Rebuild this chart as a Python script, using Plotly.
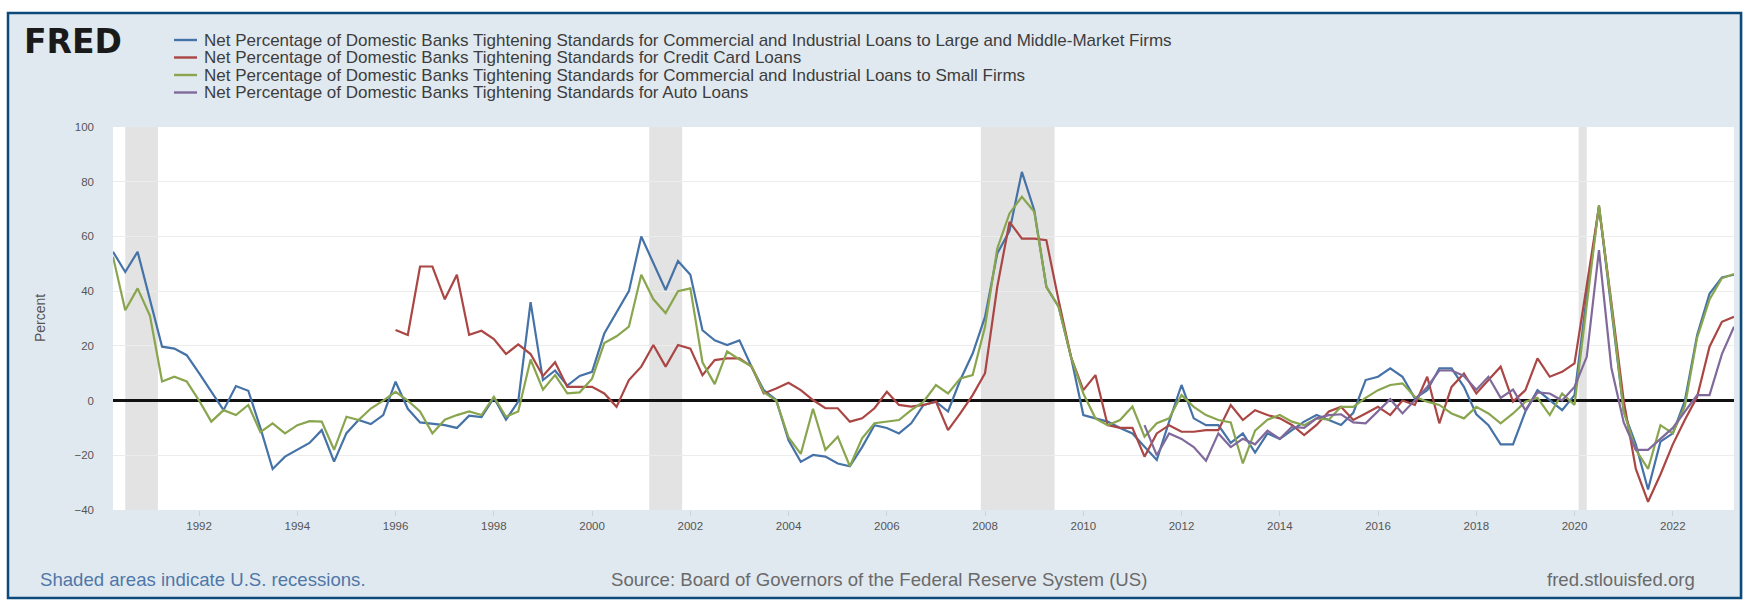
import plotly.graph_objects as go
import pandas as pd

# ---------------- data (quarterly, net percentage) ----------------
large_mid_start = "1990-04-01"
large_mid = [
    54.4, 47, 54.4,
    37, 19.7, 19, 16.6,
    10, 3, -3.5, 5.3,
    3.6, -10, -25, -20.5,
    -18, -15.5, -10.8, -22.3,
    -11.9, -7.1, -8.6, -5.3,
    6.9, -3, -8, -8.5,
    -9, -10, -5.5, -6,
    1, -7, -0.4, 36,
    7.5, 11, 5.5, 9,
    10.5, 24.5, 32, 40,
    60, 50, 40.4, 51,
    46, 25.7, 22, 20.3,
    22, 12.4, 3.8, 0.2,
    -14.5, -22.4, -19.9, -20.5,
    -23, -24, -17, -9,
    -10, -12, -8.3, -1.6,
    -0.4, -4, 7.5, 17.2,
    30.6, 53.8, 62, 83.6,
    69.6, 41.6, 34.3, 16,
    -5.3, -6.5, -7.7, -10,
    -12, -16.9, -21.7, -7.7,
    5.7, -6.5, -9, -9,
    -15.5, -12, -19, -12,
    -14, -10.8, -7.7, -5.3,
    -7, -8.9, -4.5, 7.5,
    8.7, 11.8, 8.7, 0.8,
    3.8, 11.8, 11.8, 5,
    -5, -9, -16, -16,
    -4, 3.8, 0.2, -3.5,
    2, 38, 71.2, 34,
    -4, -16, -32.5, -15,
    -12, 0, 24, 39,
    45, 46,
]

small_start = "1990-04-01"
small = [
    52.6, 33, 41,
    31, 7, 8.7, 7,
    0, -7.7, -3.5, -5.3,
    -1.6, -11.5, -8.3, -12,
    -9, -7.5, -7.7, -18,
    -5.9, -7.1, -2.9, 0,
    3.2, 0, -4, -12,
    -7, -5.3, -4, -5.3,
    1.4, -5.9, -4, 15,
    4, 9.3, 2.6, 3,
    8, 21, 23.5, 27,
    46, 37, 32, 40,
    41, 14, 6, 18,
    15, 12.5, 3, 0,
    -13.5, -19.5, -3, -18,
    -13.2, -24, -13.8, -8.3,
    -7.7, -7.1, -3.5, -0.4,
    5.7, 2.6, 8.1, 9.3,
    27, 55.6, 68.4, 74.5,
    69, 41.6, 34.3, 16,
    2.6, -6.5, -9, -7.1,
    -2.2, -13.2, -8.3, -6.5,
    2, -2.3, -5.3, -7.1,
    -8, -23, -11, -7,
    -5.3, -7.7, -9, -6.5,
    -7, -2.3, -2.3, 1,
    3.8, 5.7, 6.3, 1.4,
    -0.4, -1.6, -4.7, -6.5,
    -2.3, -4.7, -8.3, -4.7,
    -0.4, 1, -5.3, 2.6,
    -1.6, 36, 71.4, 35,
    -4, -18, -25, -9,
    -12, -2, 23, 37,
    44.7, 46.3,
]

credit_card_start = "1996-01-01"
credit_card = [
    25.8, 24, 49, 49,
    37, 46, 24, 25.5,
    22.5, 17, 20.5, 17,
    9, 14, 5, 5,
    5, 2.6, -2.3, 7.5,
    12.4, 20.3, 12.4, 20.3,
    19, 9.3, 14.8, 15.4,
    15.4, 12.4, 2.6, 4.4,
    6.5, 3.8, 0.2, -2.8,
    -2.8, -7.7, -6.5, -2.8,
    3.2, -1.6, -2.2, -1.6,
    -0.4, -10.8, -4.7, 2,
    10, 41.6, 65.3, 59.2,
    59.2, 58.6, 36.7, 16,
    3.8, 9.3, -9, -10,
    -10, -20.5, -12, -9,
    -11.4, -11.4, -10.8, -10.8,
    -1.6, -7.1, -3.5, -5.3,
    -6.5, -8.9, -12.6, -8.9,
    -4, -2.3, -7.1, -4.7,
    -2.3, -5.3, 0, -1.6,
    8.7, -8.3, 5, 9.9,
    2.6, 7.5, 12.4, -0.4,
    3.8, 15.4, 8.7, 10.5,
    13.6, 42, 70.8, 36,
    0, -25, -37, -27,
    -16, -7, 1.4, 19.7,
    28.8, 30.6,
]

auto_start = "2011-04-01"
auto = [
    -9, -20, -12,
    -14, -17, -22, -12,
    -17, -14, -16, -11,
    -14, -9.6, -10, -6.5,
    -5.3, -5, -8, -8.3,
    -4, 0.5, -4.7, 0,
    5, 11, 11, 9,
    4, 8.7, 1, 4,
    -3.5, 3, 2.6, 0,
    5, 16, 55, 12,
    -8, -18, -18, -14,
    -10, -4, 2, 2,
    17, 27,
]

series_names = [
    "Net Percentage of Domestic Banks Tightening Standards for Commercial and Industrial Loans to Large and Middle-Market Firms",
    "Net Percentage of Domestic Banks Tightening Standards for Credit Card Loans",
    "Net Percentage of Domestic Banks Tightening Standards for Commercial and Industrial Loans to Small Firms",
    "Net Percentage of Domestic Banks Tightening Standards for Auto Loans",
]
series_colors = ["#4572a7", "#aa4643", "#89a54e", "#80699b"]

recession_starts = ["1990-07-01", "2001-03-01", "2007-12-01", "2020-02-01"]
recession_ends = ["1991-03-01", "2001-11-01", "2009-06-01", "2020-04-01"]

x_ticks = [f"{y}-01-01" for y in range(1992, 2023, 2)]
x_tick_labels = [str(y) for y in range(1992, 2023, 2)]
y_ticks = [-40, -20, 0, 20, 40, 60, 80, 100]

# ---------------- layout geometry ----------------
W, H = 1743, 604
ML, MR, MT, MB = 113, 9, 127, 94
PW, PH = W - ML - MR, H - MT - MB


def px(x):
    return (x - ML) / PW


def py(y):
    return (H - MB - y) / PH


def qdates(start, n):
    return pd.date_range(start, periods=n, freq="QS")


fig = go.Figure()
data_sets = [
    (large_mid_start, large_mid),
    (credit_card_start, credit_card),
    (small_start, small),
    (auto_start, auto),
]
for (start, vals), name, col in zip(data_sets, series_names, series_colors):
    fig.add_trace(go.Scatter(
        x=qdates(start, len(vals)), y=vals, mode="lines", name=name,
        line=dict(color=col, width=2.2), showlegend=False,
    ))

shapes = []
for s, e in zip(recession_starts, recession_ends):
    shapes.append(dict(type="rect", xref="x", yref="paper", x0=s, x1=e, y0=0, y1=1,
                       fillcolor="#e3e3e3", line=dict(width=0), layer="below"))

# frame: white outside, dark blue border
shapes += [
    dict(type="rect", xref="paper", yref="paper", x0=px(0), x1=px(W), y0=py(0), y1=py(12),
         fillcolor="white", line=dict(width=0), layer="below"),
    dict(type="rect", xref="paper", yref="paper", x0=px(0), x1=px(7), y0=py(0), y1=py(H),
         fillcolor="white", line=dict(width=0), layer="below"),
    dict(type="rect", xref="paper", yref="paper", x0=px(0), x1=px(W), y0=py(599), y1=py(H),
         fillcolor="white", line=dict(width=0), layer="below"),
    dict(type="rect", xref="paper", yref="paper", x0=px(8), x1=px(1741), y0=py(13), y1=py(598),
         fillcolor="rgba(0,0,0,0)", line=dict(color="#0d4a7c", width=2.5), layer="below"),
]

annotations = []
legend_rows_y = [40, 57.5, 75, 92.5]
for name, col, yy in zip(series_names, series_colors, legend_rows_y):
    shapes.append(dict(type="line", xref="paper", yref="paper", x0=px(174), x1=px(197),
                       y0=py(yy), y1=py(yy), line=dict(color=col, width=2.4)))
    annotations.append(dict(xref="paper", yref="paper", x=px(202), y=py(yy), text=name,
                            showarrow=False, xanchor="left", yanchor="middle",
                            font=dict(family="Liberation Sans", size=17, color="#3d3d3d")))

annotations.append(dict(xref="paper", yref="paper", x=px(22), y=py(41), text="<b>FRED</b>",
                        showarrow=False, xanchor="left", yanchor="middle",
                        font=dict(family="DejaVu Sans", size=33, color="#1a1a1a")))

annotations.append(dict(xref="paper", yref="paper", x=px(40), y=py(318), text="Percent",
                        showarrow=False, textangle=-90, xanchor="center", yanchor="middle",
                        font=dict(family="Liberation Sans", size=14, color="#555555")))

annotations += [
    dict(xref="paper", yref="paper", x=px(38), y=py(579), text="Shaded areas indicate U.S. recessions.",
         showarrow=False, xanchor="left", yanchor="middle",
         font=dict(family="Liberation Sans", size=18.6, color="#4f77a8")),
    dict(xref="paper", yref="paper", x=px(879), y=py(579),
         text="Source: Board of Governors of the Federal Reserve System (US)",
         showarrow=False, xanchor="center", yanchor="middle",
         font=dict(family="Liberation Sans", size=18.6, color="#6a6a6a")),
    dict(xref="paper", yref="paper", x=px(1697), y=py(579), text="fred.stlouisfed.org",
         showarrow=False, xanchor="right", yanchor="middle",
         font=dict(family="Liberation Sans", size=18.6, color="#6a6a6a")),
]

fig.update_layout(
    width=W, height=H,
    margin=dict(l=ML, r=MR, t=MT, b=MB, pad=0),
    paper_bgcolor="#e1e9f0",
    plot_bgcolor="white",
    shapes=shapes,
    annotations=annotations,
    xaxis=dict(
        type="date", range=["1990-04-01", "2023-04-01"],
        tickvals=x_ticks, ticktext=x_tick_labels,
        ticks="outside", ticklen=5, tickcolor="#c8d3de", tickwidth=1,
        showgrid=False, zeroline=False, showline=False,
        tickfont=dict(family="Liberation Sans", size=11.5, color="#555555"),
    ),
    yaxis=dict(
        range=[-40, 100], tickvals=y_ticks,
        showgrid=True, gridcolor="#ececec", gridwidth=1,
        zeroline=True, zerolinecolor="#111111", zerolinewidth=2.5,
        showline=False, ticks="", ticklabelstandoff=18,
        tickfont=dict(family="Liberation Sans", size=11.5, color="#555555"),
    ),
    showlegend=False,
)

fig.write_html(
    "out.html",
    config={"displayModeBar": False},
    post_script="document.body.style.margin='0px';document.body.style.overflow='hidden';",
)
